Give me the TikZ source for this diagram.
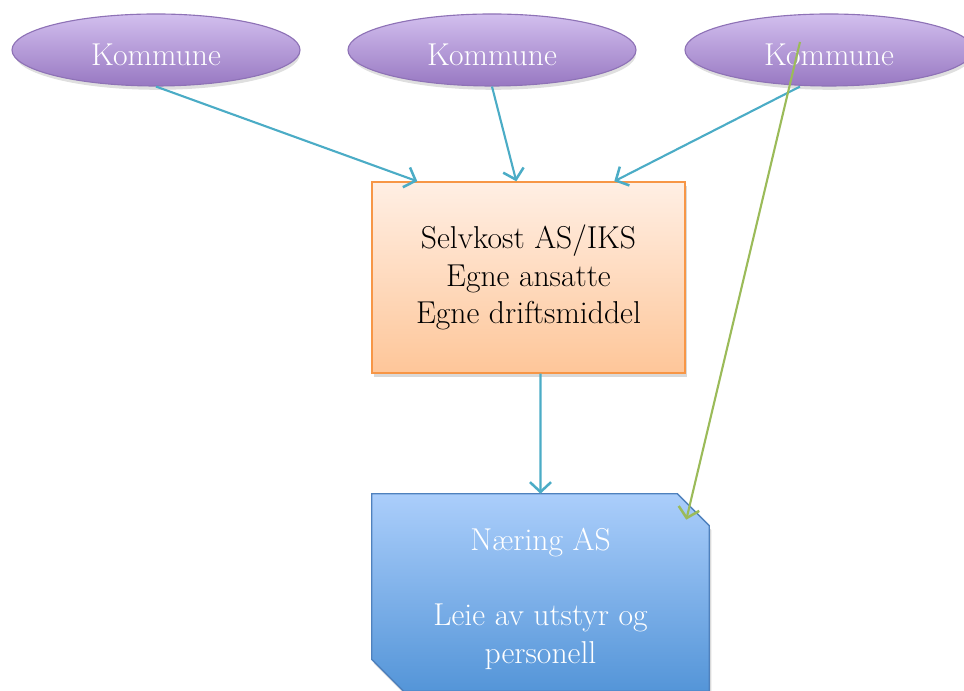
\documentclass[tikz,border=0pt]{standalone}
\usepackage{tikz}
\usetikzlibrary{shapes.geometric,arrows.meta,shadows}
\definecolor{kommunetop}{HTML}{D2BFEE}
\definecolor{kommunebottom}{HTML}{9878C2}
\definecolor{kommuneline}{HTML}{8E72B6}
\definecolor{selvkosttop}{HTML}{FFEFE4}
\definecolor{selvkostbottom}{HTML}{FEC699}
\definecolor{selvkostline}{HTML}{F79646}
\definecolor{naeringtop}{HTML}{ABCEFB}
\definecolor{naeringbottom}{HTML}{5495D8}
\definecolor{naeringline}{HTML}{4F81BD}
\definecolor{myarrowcolor}{HTML}{4BACC6}
\definecolor{mygreencolor}{HTML}{9BBB59}
\tikzset{
  bigtext/.style={font=\fontsize{22.5pt}{26.7pt}\selectfont},
  kommunenode/.style={bigtext, ellipse, draw=kommuneline, line width=0.8pt, top color=kommunetop, bottom color=kommunebottom, minimum width=7.2cm, minimum height=1.8cm, text=white, text height=22pt, text depth=0pt, drop shadow={shadow xshift=1pt, shadow yshift=-3pt, shadow scale=0.99, opacity=0.25}},
  selvkostnode/.style={bigtext, rectangle, draw=selvkostline, line width=1pt, top color=selvkosttop, bottom color=selvkostbottom, minimum width=7.825cm, minimum height=4.775cm, align=center, drop shadow={shadow xshift=1.5pt, shadow yshift=-3pt, opacity=0.3}},
  naeringtext/.style={bigtext, text=white, align=center},
  flowarrow/.style={draw=myarrowcolor, line width=1.5pt, -{Straight Barb[length=7pt,width=15pt,line width=1.8pt]}},
  greenarrow/.style={draw=mygreencolor, line width=1.5pt, -{Straight Barb[length=7pt,width=15pt,line width=1.8pt]}}
}

\begin{document}
\begin{tikzpicture}%
\useasboundingbox (0,0) rectangle (24.1,17.275);%
\node[kommunenode] (k1) at (3.9, 16.025) {Kommune};%
\node[kommunenode] (k2) at (12.3, 16.025) {Kommune};%
\node[kommunenode] (k3) at (20.725, 16.025) {Kommune};%
\node[selvkostnode] (selvkost) at (13.2125, 10.3375) {Selvkost AS/IKS\\Egne ansatte\\Egne driftsmiddel};%
% snipped box
\node[minimum width=8.425cm, minimum height=4.925cm, inner sep=0pt] (naering) at (13.5125, 2.4625) {};%
\path[draw=naeringline, line width=1pt, top color=naeringtop, bottom color=naeringbottom, drop shadow={shadow xshift=1.5pt, shadow yshift=-3pt, opacity=0.3}]
  (naering.north west) -- ([xshift=-0.8cm]naering.north east) -- ([yshift=-0.8cm]naering.north east)
  -- (naering.south east) -- ([xshift=0.8cm]naering.south west) -- ([yshift=0.8cm]naering.south west) -- cycle;%
\node[naeringtext] (naeringlabel) at (13.5125, 2.3) {Næring AS\\\mbox{}\\Leie av utstyr og\\personell};%
% arrows
\draw[flowarrow] (k1.south) -- ([xshift=1.15cm]selvkost.north west);%
\draw[flowarrow] (k2.south) -- ([xshift=3.625cm]selvkost.north west);%
\draw[flowarrow] ([xshift=-0.725cm]k3.south) -- ([xshift=6.075cm]selvkost.north west);%
\draw[flowarrow] ([xshift=0.3cm]selvkost.south) -- (naering.north);%
\draw[greenarrow] ([xshift=-0.725cm,yshift=0.2cm]k3.center) -- ([xshift=-0.575cm,yshift=-0.65cm]naering.north east);%
\end{tikzpicture}
\end{document}
